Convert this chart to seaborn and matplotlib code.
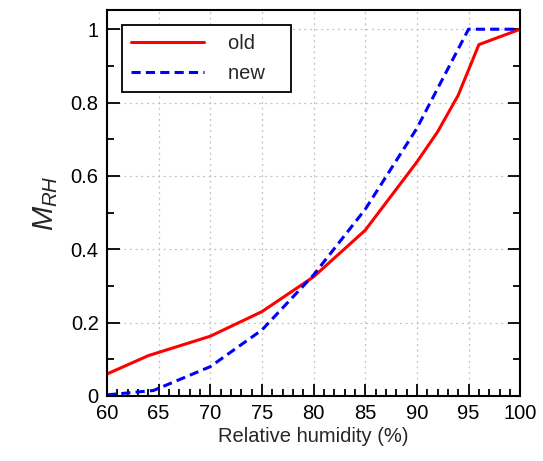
import matplotlib
matplotlib.use("Agg")
import matplotlib.pyplot as plt
from matplotlib.ticker import MultipleLocator
import numpy as np
import pandas as pd
import seaborn as sns

# relative humidity (%) and moisture modifier values
rh_old = [60, 64, 70, 75, 80, 85, 90, 92, 94, 96, 100]
m_old = [0.06, 0.11, 0.163, 0.23, 0.325, 0.452, 0.638, 0.72, 0.82, 0.958, 1.0]
rh_new = [60, 64.5, 70, 75, 80, 85, 90, 95, 100]
m_new = [0.003, 0.015, 0.08, 0.18, 0.33, 0.509, 0.73, 1.0, 1.0]

df = pd.concat([
    pd.DataFrame({"rh": rh_old, "m": m_old, "kind": "old"}),
    pd.DataFrame({"rh": rh_new, "m": m_new, "kind": "new"}),
], ignore_index=True)

sns.set_style("ticks")
plt.rcParams["font.family"] = ["Liberation Sans", "DejaVu Sans"]
plt.rcParams["mathtext.fontset"] = "custom"
plt.rcParams["mathtext.it"] = "Liberation Sans:italic"
plt.rcParams["mathtext.rm"] = "Liberation Sans"

fig = plt.figure(figsize=(5.43, 4.61), dpi=100)
ax = fig.add_axes([0.197, 0.141, 0.761, 0.837])

sns.lineplot(data=df, x="rh", y="m", hue="kind", style="kind",
             palette={"old": "#ff0000", "new": "#0000ff"},
             dashes={"old": "", "new": (3, 1.7)},
             sort=False, estimator=None, linewidth=2.2, ax=ax)

ax.set_xlim(60, 100)
ax.set_ylim(0, 1.052)
ax.xaxis.set_major_locator(MultipleLocator(5))
ax.xaxis.set_minor_locator(MultipleLocator(1))
ax.yaxis.set_minor_locator(MultipleLocator(0.1))
ax.set_yticks([0, 0.2, 0.4, 0.6, 0.8, 1.0])
ax.set_yticklabels(["0", "0.2", "0.4", "0.6", "0.8", "1"])

ax.tick_params(which="both", direction="in", top=False, right=True,
               labelsize=14.5, width=1.3, colors="black")
ax.tick_params(which="major", length=9, pad=6)
ax.tick_params(which="minor", length=5)
ax.grid(True, which="major", color="#c0c0c0", linestyle=(0, (1.5, 3)), linewidth=0.9)
for s in ax.spines.values():
    s.set_linewidth(1.5)
    s.set_color("black")

ax.set_xlabel("Relative humidity (%)", fontsize=14.5, labelpad=3)
ax.set_ylabel("$M_{RH}$", fontsize=21, labelpad=8)

leg = ax.legend(loc="upper left", fontsize=14.5, handlelength=3.6,
                fancybox=False, framealpha=1, edgecolor="black",
                borderaxespad=0.75, borderpad=0.45, labelspacing=0.55,
                handletextpad=1.2)
leg.get_frame().set_linewidth(1.3)
leg.set_title(None)
# reference legend box has some empty room to the right of the labels
for t in leg.get_texts():
    t.set_text(t.get_text() + "   ")

fig.savefig("out.png", dpi=100)
